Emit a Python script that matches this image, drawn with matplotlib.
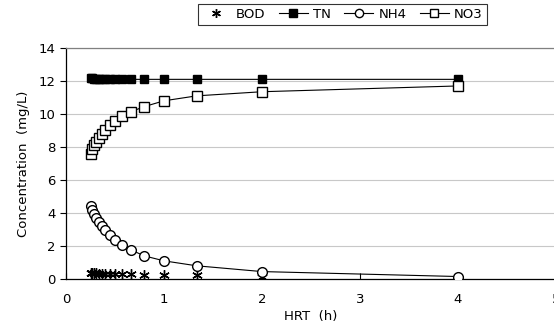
#!/usr/bin/env python3
'''Concentration vs HRT chart'''
import matplotlib
matplotlib.use('Agg')
import matplotlib.pyplot as plt

hrt = [0.25, 0.267, 0.286, 0.308, 0.333, 0.364, 0.4, 0.444, 0.5,
       0.571, 0.667, 0.8, 1.0, 1.333, 2.0, 4.0]
bod = [0.35, 0.35, 0.34, 0.34, 0.33, 0.33, 0.32, 0.31, 0.3,
       0.29, 0.28, 0.27, 0.25, 0.22, 0.15, 0.05]
tn = [12.2, 12.2, 12.15, 12.15, 12.1, 12.1, 12.1, 12.1, 12.1,
      12.1, 12.1, 12.1, 12.1, 12.1, 12.1, 12.1]
nh4 = [4.45, 4.2, 3.95, 3.7, 3.45, 3.2, 2.95, 2.65, 2.35,
       2.05, 1.75, 1.4, 1.1, 0.8, 0.45, 0.15]
no3 = [7.55, 7.85, 8.1, 8.3, 8.55, 8.8, 9.05, 9.35, 9.6,
       9.9, 10.15, 10.45, 10.8, 11.1, 11.35, 11.7]

plt.rcParams['font.family'] = ['DejaVu Sans']
plt.rcParams['font.size'] = 9.5

fig = plt.figure(figsize=(5.54, 3.36), dpi=100)
ax = fig.add_axes([66 / 554, 1 - 279 / 336, 490 / 554, 231 / 336])

ax.plot(hrt, bod, linestyle='none', marker=(6, 2, 0), ms=7.5, mew=1.0,
        color='black', label='BOD', zorder=3)
ax.plot(hrt, tn, '-', marker='s', ms=6, lw=0.8, color='black',
        mfc='black', label='TN', zorder=3)
ax.plot(hrt, nh4, '-', marker='o', ms=7, lw=0.8, color='black',
        mfc='white', mew=1.0, label='NH4', zorder=3)
ax.plot(hrt, no3, '-', marker='s', ms=6.5, lw=0.8, color='black',
        mfc='white', mew=1.0, label='NO3', zorder=3)

ax.set_xlim(0, 5)
ax.set_ylim(0, 14)
ax.set_xticks([0, 1, 2, 3, 4, 5])
ax.set_yticks(range(0, 15, 2))
ax.yaxis.grid(True, color='#c8c8c8', lw=0.8)
ax.set_axisbelow(True)
ax.tick_params(axis='x', direction='in', length=4, pad=10)
ax.tick_params(axis='y', direction='out', length=4)
ax.spines['top'].set_color('#808080')
ax.spines['right'].set_color('#808080')
for s in ax.spines.values():
    s.set_linewidth(0.9)
ax.set_xlabel('HRT  (h)', labelpad=3)
ax.set_ylabel('Concentration  (mg/L)', labelpad=6)

leg = fig.legend(loc='center', bbox_to_anchor=(0.618, 0.958), ncol=4,
                 frameon=True, fancybox=False, edgecolor='black',
                 handlelength=2.2, columnspacing=1.0, handletextpad=0.4,
                 borderpad=0.3, markerscale=0.85)
leg.get_frame().set_linewidth(0.8)

fig.savefig('out.png', dpi=100)
